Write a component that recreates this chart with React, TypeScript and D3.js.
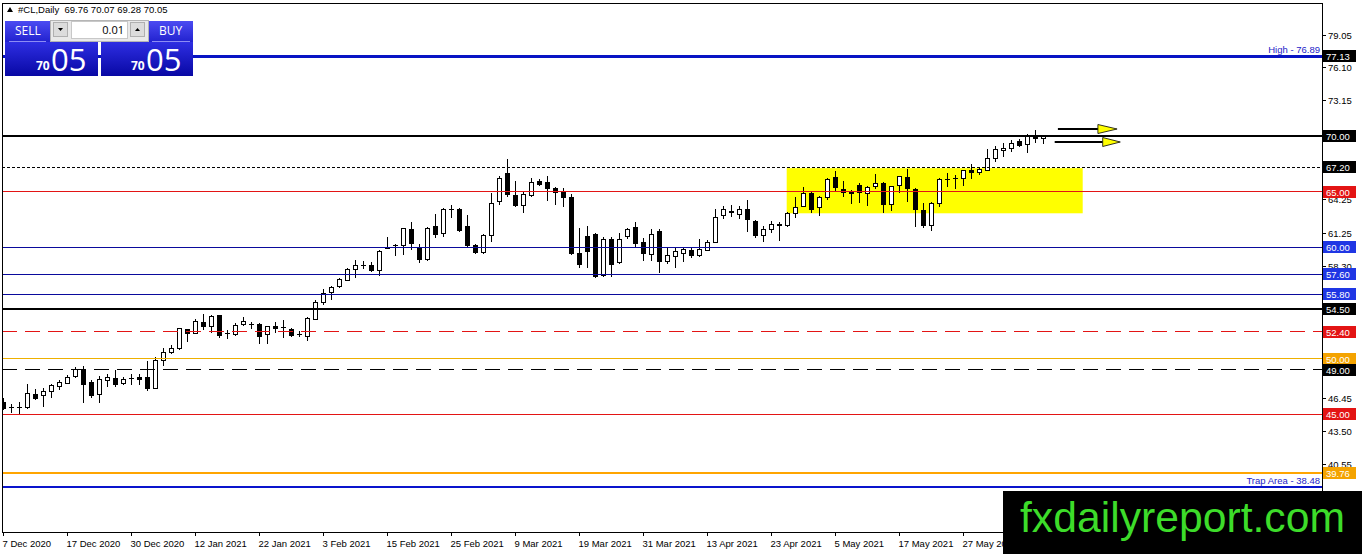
// MT4-style daily candlestick chart: #CL (crude oil) with support / resistance levels
import React from 'react';
import * as d3 from 'd3';

const W = 1362;
const H = 554;
const frame = { left: 2, top: 3, right: 1322, bottom: 532 };

// O, H, L, C per daily bar (7 Dec 2020 -> early Jun 2021)
const candles: [number, number, number, number][] = [
  [46.15, 46.45, 45.4, 45.54], [45.6, 45.93, 45.1, 45.63], [45.62, 46.14, 44.95, 45.65], [45.6, 47.74, 45.45, 46.9],
  [46.84, 47.26, 46.3, 46.39], [46.69, 47.35, 45.69, 47.05], [47.0, 47.74, 46.5, 47.56], [47.5, 48.1, 47.2, 47.9],
  [47.8, 48.56, 47.75, 48.35], [48.35, 49.3, 48.26, 49.0], [49.1, 49.31, 45.99, 47.65], [47.95, 48.1, 46.45, 46.66],
  [46.75, 48.47, 45.99, 48.1], [48.05, 48.65, 47.5, 48.35], [48.3, 49.0, 47.44, 47.68], [47.74, 48.35, 47.62, 48.1],
  [48.2, 48.65, 47.65, 48.25], [48.35, 48.6, 47.65, 48.1], [48.35, 49.83, 47.14, 47.26], [47.32, 50.16, 47.26, 49.83],
  [49.77, 50.97, 49.37, 50.52], [50.52, 51.27, 50.45, 50.88], [50.88, 52.78, 50.76, 52.69], [52.63, 52.69, 51.48, 52.18],
  [52.24, 53.53, 52.18, 53.33], [53.33, 53.99, 52.57, 52.87], [52.87, 53.9, 52.27, 53.78], [53.9, 53.95, 51.88, 52.03],
  [52.2, 52.54, 51.78, 52.27], [52.13, 53.2, 52.07, 52.97], [53.0, 53.74, 52.97, 53.3], [53.0, 53.3, 52.67, 53.03],
  [53.15, 53.2, 51.36, 51.95], [52.16, 52.9, 51.36, 52.85], [52.97, 53.27, 52.31, 52.73], [52.79, 53.5, 51.86, 52.67],
  [52.7, 52.76, 51.95, 52.1], [52.13, 52.46, 51.95, 52.16], [51.95, 53.74, 51.57, 53.59], [53.5, 55.29, 53.44, 55.0],
  [55.0, 56.25, 54.84, 55.83], [55.95, 56.54, 55.23, 56.42], [56.42, 57.2, 56.33, 57.08], [57.02, 58.12, 56.96, 58.03],
  [58.03, 58.87, 57.2, 58.39], [58.36, 58.81, 58.03, 58.39], [58.39, 58.69, 57.74, 57.82], [57.91, 59.76, 57.38, 59.64],
  [60.06, 60.89, 59.82, 59.88], [60.18, 60.3, 59.23, 60.06], [60.18, 61.71, 59.35, 61.7], [61.62, 62.31, 59.76, 60.3],
  [60.0, 60.27, 58.56, 58.86], [58.86, 61.86, 58.77, 61.65], [61.92, 63.0, 60.81, 61.11], [61.26, 63.51, 60.9, 63.42],
  [63.42, 63.81, 62.61, 63.33], [63.45, 63.51, 61.35, 61.47], [61.92, 62.91, 59.91, 60.15], [60.21, 60.25, 59.37, 59.46],
  [59.46, 61.17, 59.37, 61.02], [61.11, 64.86, 60.51, 63.96], [64.11, 66.42, 63.75, 66.21], [66.66, 67.95, 64.5, 64.71],
  [64.71, 65.91, 63.6, 63.72], [63.75, 65.07, 63.06, 64.71], [64.65, 66.21, 64.47, 65.85], [65.97, 66.12, 65.52, 65.58],
  [65.85, 66.36, 64.11, 65.25], [65.31, 65.4, 63.75, 64.86], [64.92, 65.31, 63.6, 64.35], [64.5, 64.8, 59.35, 59.4],
  [59.46, 61.71, 58.11, 58.41], [61.02, 61.92, 58.11, 59.61], [61.2, 61.26, 57.21, 57.36], [57.51, 60.9, 57.36, 60.72],
  [60.72, 60.9, 57.36, 58.35], [58.62, 61.32, 58.5, 60.66], [60.9, 61.71, 60.72, 61.56], [61.86, 62.31, 59.91, 60.36],
  [60.45, 60.81, 58.8, 59.37], [59.37, 61.62, 58.8, 61.17], [61.47, 61.65, 57.66, 58.71], [58.71, 60.0, 58.5, 59.22],
  [59.19, 60.0, 58.11, 59.61], [59.46, 59.91, 58.68, 59.82], [59.76, 59.91, 59.01, 59.22], [59.31, 60.72, 59.1, 59.82],
  [59.76, 60.66, 59.7, 60.45], [60.42, 63.42, 60.36, 62.67], [62.82, 63.72, 62.52, 63.36], [63.27, 63.81, 62.76, 63.06],
  [62.97, 63.72, 62.52, 63.42], [63.42, 64.26, 61.41, 62.46], [62.4, 62.46, 60.81, 61.02], [61.05, 61.92, 60.51, 61.62],
  [61.59, 62.4, 61.26, 62.04], [62.1, 62.31, 60.6, 61.92], [61.92, 63.21, 61.8, 63.0], [63.06, 64.5, 62.61, 63.6],
  [63.66, 65.4, 63.6, 64.86], [64.86, 64.92, 63.06, 63.36], [63.6, 64.62, 62.85, 64.5], [64.5, 66.21, 64.2, 66.12],
  [66.3, 66.81, 65.01, 65.31], [65.22, 65.91, 64.5, 64.86], [64.95, 65.16, 63.87, 64.77], [65.61, 65.76, 63.96, 64.86],
  [64.86, 65.52, 63.72, 65.4], [65.4, 66.6, 65.22, 65.7], [65.76, 65.82, 63.06, 63.81], [63.81, 65.52, 63.3, 65.46],
  [65.52, 66.42, 64.86, 66.36], [66.3, 67.02, 64.02, 65.22], [65.22, 65.31, 61.86, 63.3], [63.36, 63.99, 61.77, 61.95],
  [61.92, 64.02, 61.5, 63.9], [63.9, 66.21, 63.64, 66.06], [66.06, 66.66, 65.41, 66.12], [66.12, 66.51, 65.24, 66.15],
  [66.12, 66.95, 65.47, 66.86], [66.95, 67.48, 66.12, 66.66], [66.66, 67.19, 66.51, 66.95], [66.95, 68.79, 66.86, 67.99],
  [67.9, 69.08, 67.69, 68.73], [68.67, 69.32, 68.14, 68.88], [68.88, 69.67, 68.58, 69.32], [69.53, 69.76, 69.02, 69.11],
  [69.23, 70.21, 68.43, 69.91], [69.97, 70.56, 69.38, 69.67], [69.76, 70.07, 69.28, 70.05],
];

const xTickLabels = [
  '7 Dec 2020', '17 Dec 2020', '30 Dec 2020', '12 Jan 2021', '22 Jan 2021', '3 Feb 2021',
  '15 Feb 2021', '25 Feb 2021', '9 Mar 2021', '19 Mar 2021', '31 Mar 2021', '13 Apr 2021',
  '23 Apr 2021', '5 May 2021', '17 May 2021', '27 May 2021',
];
const xTickEvery = 8;

// axis ticks that remain readable (the others sit under the level tags)
const yTickValues = [79.05, 76.1, 73.15, 64.25, 61.25, 58.3, 46.45, 43.5, 40.55];

const levelPrices = [77.13, 70.0, 67.2, 65.0, 60.0, 57.6, 55.8, 54.5, 52.4, 50.0, 49.0, 45.0, 39.76, 38.48];
const levelTags = ['77.13', '70.00', '67.20', '65.00', '60.00', '57.60', '55.80', '54.50', '52.40', '50.00', '49.00', '45.00', '39.76', ''];

// consolidation box (bar index range, price range)
const zoneBars = [97.9, 134.9];
const zonePrices = [67.1, 63.05];

// projection arrows: [price, tail bar, head-start bar, tip bar]
const arrows = [
  [70.6, 131.8, 136.8, 139.2],
  [69.45, 131.4, 137.4, 139.6],
];

const title = '#CL,Daily  69.76 70.07 69.28 70.05';

const RED = '#e31414';
const BLUE_TAG = '#1f36e4';
const ORANGE = '#f4a300';

const levelStyle: { stroke: string; w: number; dash?: string; tag: string }[] = [
  { stroke: '#0814c4', w: 3, tag: '#000' },
  { stroke: '#000', w: 2, tag: '#000' },
  { stroke: '#000', w: 1, dash: '3,2', tag: '#000' },
  { stroke: RED, w: 1, tag: RED },
  { stroke: '#0a0a9c', w: 1, tag: BLUE_TAG },
  { stroke: '#0a0a9c', w: 1, tag: BLUE_TAG },
  { stroke: '#0a0a9c', w: 1, tag: BLUE_TAG },
  { stroke: '#000', w: 2, tag: '#000' },
  { stroke: RED, w: 1, dash: '15,8', tag: RED },
  { stroke: '#eeb000', w: 1, tag: ORANGE },
  { stroke: '#000', w: 1, dash: '15,8', tag: '#000' },
  { stroke: RED, w: 1, tag: RED },
  { stroke: '#ffa500', w: 2, tag: ORANGE },
  { stroke: '#0a14cc', w: 2, tag: '' },
];

const FONT = '"Liberation Sans", Arial, sans-serif';

const App: React.FC = () => {
  const x = d3.scaleLinear().domain([0, candles.length - 1]).range([3.5, 1043.5]);
  const y = d3.scaleLinear().domain([79.05, 40.55]).range([35, 464]);

  const crisp = (v: number, w: number) => (w % 2 === 1 ? Math.round(v - 0.5) + 0.5 : Math.round(v));

  return (
    <div style={{ position: 'absolute', left: 0, top: 0, width: W, height: H, background: '#fff' }}>
      <svg width={W} height={H} style={{ display: 'block', fontFamily: FONT }}>
        <defs>
          <clipPath id="plot">
            <rect x={frame.left + 1} y={frame.top + 1} width={frame.right - frame.left - 1} height={frame.bottom - frame.top - 1} />
          </clipPath>
          <linearGradient id="btn" x1="0" y1="0" x2="0" y2="1">
            <stop offset="0" stopColor="#4b4bf2" />
            <stop offset="1" stopColor="#2222cf" />
          </linearGradient>
          <linearGradient id="big" x1="0" y1="0" x2="0" y2="1">
            <stop offset="0" stopColor="#2e2ee2" />
            <stop offset="1" stopColor="#0808a4" />
          </linearGradient>
        </defs>

        <rect x={0} y={0} width={W} height={H} fill="#fff" />

        <g clipPath="url(#plot)">
          {/* consolidation zone */}
          <rect
            x={x(zoneBars[0])}
            y={y(zonePrices[0])}
            width={x(zoneBars[1]) - x(zoneBars[0])}
            height={y(zonePrices[1]) - y(zonePrices[0])}
            fill="#ffff00"
          />

          {/* candles */}
          {candles.map(([o, h, l, c], i) => {
            const cx = x(i);
            const top = y(Math.max(o, c));
            const bot = y(Math.min(o, c));
            const up = c >= o;
            const bh = bot - top;
            return (
              <g key={i} shapeRendering="crispEdges">
                <line x1={cx} x2={cx} y1={Math.round(y(h))} y2={Math.round(y(l))} stroke="#000" strokeWidth={1} />
                {bh < 1.5 ? (
                  <line x1={cx - 2.5} x2={cx + 2.5} y1={crisp(top, 1)} y2={crisp(top, 1)} stroke="#000" strokeWidth={1} />
                ) : up ? (
                  <rect x={cx - 2} y={crisp(top, 1)} width={4} height={Math.round(bh)} fill="#fff" stroke="#000" strokeWidth={1} />
                ) : (
                  <rect x={cx - 2.5} y={Math.round(top)} width={5} height={Math.max(1, Math.round(bh))} fill="#000" />
                )}
              </g>
            );
          })}

          {/* horizontal levels */}
          {levelPrices.map((p, i) => {
            const s = levelStyle[i];
            const yy = crisp(y(p), s.w);
            return (
              <line
                key={p}
                x1={frame.left}
                x2={frame.right}
                y1={yy}
                y2={yy}
                stroke={s.stroke}
                strokeWidth={s.w}
                strokeDasharray={s.dash}
                shapeRendering="crispEdges"
              />
            );
          })}

          {/* arrows */}
          {arrows.map(([p, tail, head, tip], i) => {
            const yy = Math.round(y(p));
            return (
              <g key={i}>
                <line x1={x(tail)} x2={x(head)} y1={yy} y2={yy} stroke="#000" strokeWidth={2} />
                <path
                  d={`M${x(head)},${yy - 4.5}L${x(tip)},${yy}L${x(head)},${yy + 4.5}Z`}
                  fill="#ffff00"
                  stroke="#000"
                  strokeWidth={0.8}
                />
              </g>
            );
          })}

          <text x={frame.right - 2} y={y(levelPrices[0]) - 3} textAnchor="end" fontSize={9.5} fill="#2323c8">
            High - 76.89
          </text>
          <text x={frame.right - 2} y={y(levelPrices[13]) - 3} textAnchor="end" fontSize={9.5} fill="#2323c8">
            Trap Area - 38.48
          </text>
        </g>

        {/* frame */}
        <rect
          x={frame.left + 0.5}
          y={frame.top + 0.5}
          width={frame.right - frame.left}
          height={frame.bottom - frame.top}
          fill="none"
          stroke="#000"
          strokeWidth={1}
          shapeRendering="crispEdges"
        />

        {/* right price axis */}
        {yTickValues.map((v) => (
          <g key={v}>
            <line x1={frame.right} x2={frame.right + 4} y1={crisp(y(v), 1)} y2={crisp(y(v), 1)} stroke="#000" shapeRendering="crispEdges" />
            <text x={frame.right + 6} y={y(v) + 3.5} fontSize={9.5} fill="#000">
              {d3.format('.2f')(v)}
            </text>
          </g>
        ))}

        {/* price tags */}
        {levelPrices.map((p, i) => {
          const s = levelStyle[i];
          if (!s.tag) return null;
          const yy = Math.round(y(p));
          return (
            <g key={p}>
              <rect x={frame.right + 1} y={yy - 6} width={33} height={12} fill={s.tag} />
              <text x={frame.right + 4} y={yy + 3.5} fontSize={9.5} fill="#fff">
                {levelTags[i]}
              </text>
            </g>
          );
        })}

        {/* bottom time axis */}
        {xTickLabels.map((t, k) => {
          const tx = x(k * xTickEvery);
          return (
            <g key={t}>
              <line x1={tx} x2={tx} y1={frame.bottom} y2={frame.bottom + 4} stroke="#000" shapeRendering="crispEdges" />
              <text x={tx - 1} y={547} fontSize={9.5} fill="#000">
                {t}
              </text>
            </g>
          );
        })}

        {/* header */}
        <path d="M7,12L10,7L13,12Z" fill="#000" />
        <text x={18} y={13} fontSize={9.5} fill="#000" style={{ whiteSpace: 'pre' }}>
          {title}
        </text>

        {/* one-click trading panel */}
        <g>
          <rect x={5} y={21} width={45} height={21} fill="url(#btn)" />
          <line x1={9} x2={46} y1={41.5} y2={41.5} stroke="#8c8cf4" strokeWidth={1} />
          <text x={15} y={35} fontSize={12} fill="#fff" fontFamily='"Open Sans", sans-serif'>SELL</text>
          <rect x={149} y={21} width={44} height={21} fill="url(#btn)" />
          <line x1={152} x2={190} y1={41.5} y2={41.5} stroke="#8c8cf4" strokeWidth={1} />
          <text x={159} y={35} fontSize={12} fill="#fff" fontFamily='"Open Sans", sans-serif'>BUY</text>

          <rect x={50.5} y={20.5} width={98} height={21} fill="#e9e9e9" stroke="#b5b5b5" />
          <rect x={53.5} y={22.5} width={14} height={14} fill="#dcdcdc" stroke="#b0b0b0" />
          <path d="M58,28L63,28L60.5,31Z" fill="#000" />
          <rect x={71.5} y={21.5} width={56} height={17} fill="#fff" stroke="#c8c8c8" />
          <text x={124} y={34} textAnchor="end" fontSize={11} fill="#000" fontFamily='"Open Sans", sans-serif'>0.01</text>
          <rect x={130.5} y={22.5} width={14} height={14} fill="#dcdcdc" stroke="#b0b0b0" />
          <path d="M135,31L140,31L137.5,28Z" fill="#000" />

          <rect x={5} y={42} width={93} height={34} fill="url(#big)" />
          <rect x={101} y={42} width={92} height={34} fill="url(#big)" />
          <text x={36} y={70} fontSize={12} fontWeight="bold" fill="#fff" fontFamily='"Open Sans", sans-serif'>70</text>
          <text x={51} y={71} fontSize={31} fill="#fff" fontFamily='"Open Sans", sans-serif'>05</text>
          <text x={131} y={70} fontSize={12} fontWeight="bold" fill="#fff" fontFamily='"Open Sans", sans-serif'>70</text>
          <text x={146} y={71} fontSize={31} fill="#fff" fontFamily='"Open Sans", sans-serif'>05</text>
        </g>

        {/* watermark */}
        <rect x={1003} y={491} width={W - 1003} height={H - 491} fill="#000" />
        <text x={1020} y={532} fontSize={43} fill="#3ddc2a" textLength={325} lengthAdjust="spacingAndGlyphs">
          fxdailyreport.com
        </text>
      </svg>
    </div>
  );
};

export default App;
